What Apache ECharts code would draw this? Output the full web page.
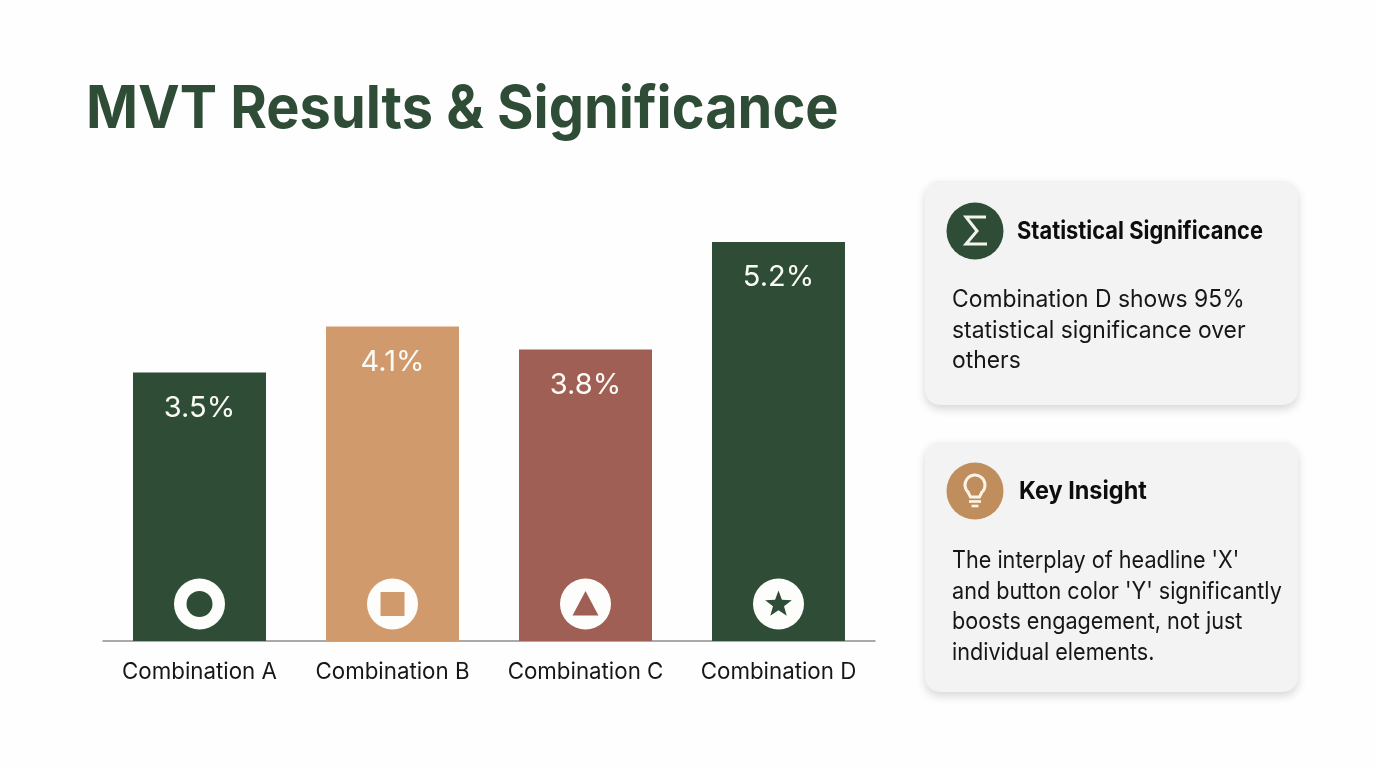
<!DOCTYPE html>
<html><head><meta charset="utf-8">
<style>html,body{margin:0;padding:0;background:#fff}#c{width:1376px;height:768px}</style>
<script src="https://cdn.jsdelivr.net/npm/echarts@6/dist/echarts.min.js"></script>
</head><body><div id="c"></div>
<script>
const categories = ['Combination A','Combination B','Combination C','Combination D'];
const values = [3.5,4.1,3.8,5.2];
const barColors = ['#2f4d36','#d19a6c','#a05f55','#2f4d36'];
const iconKinds = ['ring','square','triangle','star'];
const titleText = 'MVT Results & Significance';
const card1Title = 'Statistical Significance';
const card1Lines = ['Combination D shows 95%','statistical significance over','others'];
const card2Title = 'Key Insight';
const card2Lines = ["The interplay of headline 'X'","and button color 'Y' significantly","boosts engagement, not just","individual elements."];

const F = 'Inter';
const chart = echarts.init(document.getElementById('c'), null, {renderer:'canvas'});

function starPoints(cx,cy,R,r){
  const p=[];
  for(let i=0;i<10;i++){const a=-Math.PI/2+i*Math.PI/5,q=i%2?r:R;p.push([cx+q*Math.cos(a),cy+q*Math.sin(a)]);}
  return p;
}
function renderIcon(params,api){
  const i=api.value(0);
  const base=api.coord([i,0]);
  const cx=base[0], cy=base[1]-37;
  const col=barColors[i], kind=iconKinds[i];
  const kids=[{type:'circle',shape:{cx,cy,r:25.5},style:{fill:'#fdfefc'}}];
  if(kind==='ring')kids.push({type:'circle',shape:{cx,cy,r:13},style:{fill:col}});
  if(kind==='square')kids.push({type:'rect',shape:{x:cx-12,y:cy-12,width:24,height:24},style:{fill:col}});
  if(kind==='triangle')kids.push({type:'polygon',shape:{points:[[cx,cy-13],[cx+13,cy+11.5],[cx-13,cy+11.5]]},style:{fill:col}});
  if(kind==='star')kids.push({type:'polygon',shape:{points:starPoints(cx,cy+0.5,14,5.8)},style:{fill:col}});
  return {type:'group',children:kids};
}
function textEl(x,y,text,size,weight,color,sx){
  return {type:'text',x,y,scaleX:sx||1,originX:0,originY:0,style:{text,fill:color,font:`${weight} ${size}px ${F}`,verticalAlign:'middle',align:'left'},silent:true};
}
function card(y,h){
  return {type:'rect',shape:{x:925,y,width:373,height:h,r:15},
    style:{fill:'#f3f3f3',shadowColor:'rgba(0,0,0,0.16)',shadowBlur:10,shadowOffsetY:4},silent:true};
}
const BULB='#fbf3e6';
const graphicEls=[
  card(181,224), card(442,250),
  {type:'circle',shape:{cx:975,cy:231,r:28.5},style:{fill:'#2f4d36'}},
  {type:'polyline',shape:{points:[[986,217],[966,217],[977,231],[966,244],[987,244]]},style:{stroke:'#f2f5ee',lineWidth:3,fill:null}},
  {type:'circle',shape:{cx:975,cy:491,r:28.5},style:{fill:'#c08d5c'}},
  {type:'arc',shape:{cx:975,cy:485,r:10,startAngle:Math.PI*0.72,endAngle:Math.PI*0.28,clockwise:true},style:{stroke:BULB,lineWidth:3,fill:null}},
  {type:'polyline',shape:{points:[[968,492],[970.5,497],[979.5,497],[982,492]]},style:{stroke:BULB,lineWidth:3,fill:null}},
  {type:'line',shape:{x1:969,y1:501.5,x2:981,y2:501.5},style:{stroke:BULB,lineWidth:2.6}},
  {type:'line',shape:{x1:971.5,y1:506,x2:978.5,y2:506},style:{stroke:BULB,lineWidth:2.6}},
  textEl(1017,232,card1Title,24.5,700,'#0d0d0d',0.893),
  textEl(1019,492,card2Title,24.5,700,'#0d0d0d',0.957),
  textEl(86,110,titleText,59,700,'#2f4d36',0.947),
];
card1Lines.forEach((t,i)=>graphicEls.push(textEl(952,300+i*30.5,t,24,400,'#161616',0.953)));
card2Lines.forEach((t,i)=>graphicEls.push(textEl(952,561+i*30.5,t,24,400,'#161616',0.9)));

chart.setOption({
  backgroundColor:'#fefefe',
  animation:false,
  grid:{left:103,top:104,width:772,height:537},
  xAxis:{type:'category',data:categories,
    axisLine:{lineStyle:{color:'#8e8e8e',width:1.5}},axisTick:{show:false},
    axisLabel:{interval:0,hideOverlap:false,fontFamily:F,fontSize:22.3,color:'#161616',margin:20}},
  yAxis:{type:'value',min:0,max:7,show:false,splitLine:{show:false}},
  series:[
    {type:'bar',barWidth:133,z:2,
     data:values.map((v,i)=>({value:v,itemStyle:{color:barColors[i]}})),
     label:{show:true,position:'insideTop',distance:21,formatter:p=>p.value.toFixed(1)+'%',
       fontFamily:F,fontSize:29,fontWeight:400,color:'#fbfbf6'}},
    {type:'custom',z:3,renderItem:renderIcon,data:categories.map((c,i)=>[i]),encode:{x:0},silent:true}
  ],
  graphic:{elements:graphicEls}
});
</script></body></html>
